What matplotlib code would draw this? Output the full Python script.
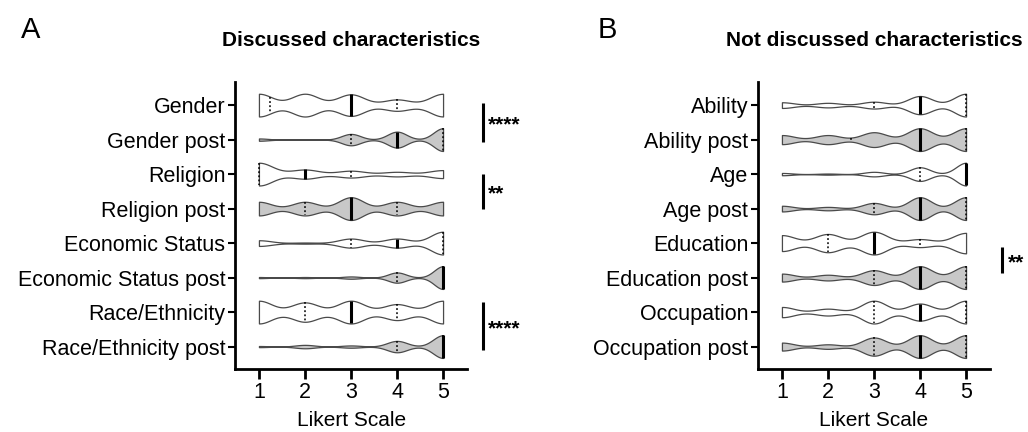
import numpy as np
import pandas as pd
import matplotlib
matplotlib.use("Agg")
import matplotlib.pyplot as plt

plt.rcParams['font.family'] = ['Liberation Sans', 'DejaVu Sans']

likert_levels = [1, 2, 3, 4, 5]

# ---- Panel A: discussed characteristics ----
categories_A = ["Gender", "Gender post", "Religion", "Religion post",
                "Economic Status", "Economic Status post",
                "Race/Ethnicity", "Race/Ethnicity post"]
# response counts at Likert levels 1..5
counts_A = [
    [20, 20, 19, 10, 20],
    [2, 0, 10, 14, 20],
    [20, 8, 6, 4, 7],
    [12, 12, 20, 12, 12],
    [5, 1, 8, 8, 20],
    [1, 1, 2, 9, 20],
    [20, 17, 20, 14, 20],
    [1, 3, 2, 10, 20],
]
q1_A = [1.25, 3, 1, 2, 3, 4, 2, 4]
med_A = [3, 4, 2, 3, 4, 5, 3, 5]
q3_A = [4, 5, 3, 4, 5, 5, 4, 5]

# ---- Panel B: not discussed characteristics ----
categories_B = ["Ability", "Ability post", "Age", "Age post",
                "Education", "Education post", "Occupation", "Occupation post"]
counts_B = [
    [5, 4, 6, 16, 20],
    [8, 8, 13, 20, 20],
    [2, 1, 4, 12, 20],
    [5, 3, 10, 20, 20],
    [14, 16, 20, 7, 18],
    [7, 5, 13, 20, 20],
    [9, 6, 20, 15, 20],
    [7, 4, 16, 20, 20],
]
q1_B = [3, 2.5, 4, 3, 2, 3, 3, 3]
med_B = [4, 4, 5, 4, 3, 4, 4, 4]
q3_B = [5, 5, 5, 5, 4, 5, 5, 5]

# significance brackets: (row start, row end, label)
sig_A = [(-0.06, 1.07, "****"), (2.0, 3.0, "**"), (5.71, 7.1, "****")]
sig_B = [(4.12, 4.87, "**")]

xticks = [1, 2, 3, 4, 5]

fig = plt.figure(figsize=(10.28, 4.32), dpi=100)
W, H = 1028, 432


def px_axes(l, r, t, b):
    return fig.add_axes([l / W, 1 - b / H, (r - l) / W, (b - t) / H])


def halfwidth(body, pos, x):
    v = body.get_paths()[0].vertices
    df = pd.DataFrame({"x": np.round(v[:, 0], 6), "d": np.abs(v[:, 1] - pos)})
    g = df.groupby("x")["d"].max()
    return float(np.interp(x, g.index.values, g.values))


def draw_panel(ax, cats, counts, q1, med, q3, sigs, sig_x, txt_x):
    positions = np.arange(len(cats))
    data = [np.repeat(likert_levels, c).astype(float) for c in counts]
    parts = ax.violinplot(data, positions=positions, vert=False, widths=0.66,
                          showextrema=False, bw_method=0.2, points=500)
    for i, body in enumerate(parts['bodies']):
        post = cats[i].endswith("post")
        body.set_facecolor('#c8c8c8' if post else 'white')
        body.set_edgecolor('#4a4a4a')
        body.set_linewidth(0.9)
        body.set_alpha(1)
        pos = positions[i]
        for xv, style in ((q1[i], 'q'), (q3[i], 'q'), (med[i], 'm')):
            hw = halfwidth(body, pos, xv)
            if style == 'm':
                ax.plot([xv, xv], [pos - hw, pos + hw], color='black', lw=2.2,
                        solid_capstyle='butt', zorder=3)
            else:
                ax.plot([xv, xv], [pos - hw, pos + hw], color='black', lw=1.1,
                        linestyle=(0, (1.2, 1.5)), zorder=3)
    ax.set_yticks(positions)
    ax.set_yticklabels(cats, fontsize=15.5)
    ax.set_xticks(xticks)
    ax.set_xticklabels([str(t) for t in xticks], fontsize=15.5)
    ax.set_xlim(0.48, 5.52)
    ax.set_ylim(7.65, -0.67)
    for s in ('top', 'right'):
        ax.spines[s].set_visible(False)
    for s in ('left', 'bottom'):
        ax.spines[s].set_linewidth(2.0)
    ax.tick_params(axis='x', length=7, width=2.0, pad=2)
    ax.tick_params(axis='y', length=5, width=1.5, pad=2)
    for (y0, y1, lab) in sigs:
        ax.plot([sig_x, sig_x], [y0, y1], color='black', lw=2.2,
                clip_on=False, solid_capstyle='butt')
        ax.text(txt_x, (y0 + y1) / 2 + 0.08, lab, fontsize=15, fontweight='bold',
                ha='left', va='center', clip_on=False)


axA = px_axes(235, 467, 82, 369)
axB = px_axes(758, 990, 82, 369)

draw_panel(axA, categories_A, counts_A, q1_A, med_A, q3_A, sig_A, 5.87, 5.98)
draw_panel(axB, categories_B, counts_B, q1_B, med_B, q3_B, sig_B, 5.79, 5.90)

fig.text(31 / W, 1 - 30 / H, "A", fontsize=21, ha='center', va='center')
fig.text(607 / W, 1 - 30 / H, "B", fontsize=21, ha='center', va='center')
fig.text(351 / W, 1 - 41 / H, "Discussed characteristics", fontsize=15,
         fontweight='bold', ha='center', va='center')
fig.text(874 / W, 1 - 41 / H, "Not discussed characteristics", fontsize=15,
         fontweight='bold', ha='center', va='center')
fig.text(352 / W, 1 - 421 / H, "Likert Scale", fontsize=15, ha='center', va='center')
fig.text(874 / W, 1 - 421 / H, "Likert Scale", fontsize=15, ha='center', va='center')

fig.savefig("out.png", dpi=100)
